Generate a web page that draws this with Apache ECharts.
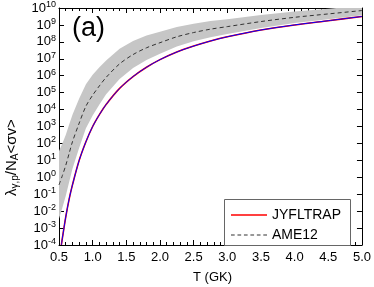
<!DOCTYPE html>
<html><head><meta charset="utf-8">
<script src="https://cdn.jsdelivr.net/npm/echarts@6/dist/echarts.min.js"></script>
<style>html,body{margin:0;padding:0;background:#fff}#c{width:374px;height:287px}</style>
</head><body><div id="c"></div>
<script>
// temperatures (GK)
var ameT = [0.5,0.55,0.6,0.65,0.7,0.8,0.9,1.0,1.1,1.2,1.4,1.6,1.8,2.0,2.25,2.5,2.75,3.0,3.5,4.0,4.5,5.0];
// log10 of rate: AME12 central (dashed), band upper and lower
var ameLog = [-0.45,0.1,0.7,1.4,2.1,3.2,4.2,4.85,5.4,5.9,6.7,7.25,7.65,7.95,8.3,8.55,8.75,8.9,9.2,9.45,9.65,9.85];
var bandUpper = [1.55,2.0,2.5,3.1,3.7,4.65,5.5,6.05,6.5,6.9,7.6,8.05,8.37,8.6,8.88,9.07,9.23,9.34,9.58,9.79,9.96,10.13];
var bandLower = [-2.45,-1.8,-1.1,-0.3,0.5,1.75,2.9,3.65,4.3,4.9,5.8,6.45,6.93,7.3,7.72,8.03,8.27,8.46,8.82,9.11,9.34,9.57];
// JYFLTRAP
var jyT = [0.535,0.55,0.6,0.65,0.7,0.8,0.9,1.0,1.1,1.2,1.4,1.6,1.8,2.0,2.25,2.5,2.75,3.0,3.5,4.0,4.5,5.0];
var jyLog = [-4.0,-3.6,-2.35,-1.3,-0.45,1.0,2.1,3.0,3.7,4.3,5.25,5.95,6.5,6.95,7.4,7.75,8.05,8.3,8.7,9.0,9.25,9.5];
var xTicks = [0.5,1.0,1.5,2.0,2.5,3.0,3.5,4.0,4.5,5.0];
var yExpMin = -4, yExpMax = 10;

var chart = echarts.init(document.getElementById('c'), null, {renderer:'canvas'});
var FONT = 'Liberation Sans, Arial, sans-serif';
function pairs(xs, ys){ return xs.map(function(x,i){return [x, ys[i]];}); }
function axisCommon(){ return {
  axisLine:{show:true,onZero:false,lineStyle:{color:'#000',width:1}},
  axisTick:{show:true,inside:true,length:5,lineStyle:{color:'#000'}},
  splitLine:{show:false}
};}
var solidIcon = 'path://M0,0H40V1.4H0Z';
var dashIcon = 'path://M0,0H4V1H0Z M7,0H11V1H7Z M14,0H18V1H14Z M21,0H25V1H21Z M28,0H32V1H28Z M35,0H39V1H35Z';
var option = {
  animation:false,
  backgroundColor:'#fff',
  grid:{left:59,right:9,top:3,bottom:42},
  xAxis:[
    Object.assign({type:'value',min:xTicks[0],max:xTicks[xTicks.length-1],interval:0.5,position:'bottom',
      minorTick:{show:true,splitNumber:5,length:3,lineStyle:{color:'#000'}},
      axisLabel:{color:'#000',fontFamily:FONT,fontSize:13,margin:6,formatter:function(v){return v.toFixed(1);}}
    },axisCommon()),
    Object.assign({type:'value',min:xTicks[0],max:xTicks[xTicks.length-1],interval:0.5,position:'top',
      minorTick:{show:true,splitNumber:5,length:3,lineStyle:{color:'#000'}},
      axisLabel:{show:false}},axisCommon())
  ],
  yAxis:[
    Object.assign({type:'value',min:yExpMin,max:yExpMax,interval:1,position:'left',
      axisLabel:{color:'#000',fontFamily:FONT,fontSize:13,margin:3,
        formatter:function(v){return '{b|10}{s|'+v+'}';},
        rich:{b:{fontSize:13,fontFamily:FONT,color:'#000'},s:{fontSize:9,fontFamily:FONT,color:'#000',padding:[0,0,7,0]}}}
    },axisCommon()),
    Object.assign({type:'value',min:yExpMin,max:yExpMax,interval:1,position:'right',
      axisLabel:{show:false}},axisCommon())
  ],
  legend:{
    show:true, left:226, top:203, orient:'vertical', itemWidth:36, itemHeight:14, itemGap:6, z:70,
    symbolKeepAspect:true,
    textStyle:{fontFamily:FONT,fontSize:14,color:'#000'},
    data:[{name:'JYFLTRAP',icon:solidIcon},{name:'AME12',icon:dashIcon}]
  },
  graphic:[
    {type:'rect',shape:{x:224.5,y:199.5,width:126,height:46},style:{fill:'#fff',stroke:'#666',lineWidth:1},z:50,silent:true},
    {type:'text',left:72,top:15,style:{text:'(a)',font:'27px '+FONT,fill:'#000'},z:60},
    {type:'text',x:4,y:196,rotation:Math.PI/2,
      style:{text:'{m|λ}{d|γ,p}{m|/N}{d|A}{m|<σv>}',
        rich:{m:{fontSize:15,fontFamily:FONT,color:'#000'},
              d:{fontSize:10,fontFamily:FONT,color:'#000',padding:[6,0,0,0]}}},z:60},
    {type:'text',left:193,top:271,style:{text:'T (GK)',font:'13px '+FONT,fill:'#000'},z:60}
  ],
  series:[
    {type:'custom',name:'band',silent:true,z:1,clip:true,
      data:pairs(ameT,ameLog),
      renderItem:function(params,api){
        if(params.dataIndex!==0) return;
        var pts=[],i;
        for(i=0;i<ameT.length;i++) pts.push(api.coord([ameT[i],bandUpper[i]]));
        for(i=ameT.length-1;i>=0;i--) pts.push(api.coord([ameT[i],bandLower[i]]));
        var cs=params.coordSys;
        return {type:'polygon',shape:{points:pts},style:{fill:'#c6c6c6'},
          clipPath:{type:'rect',shape:{x:cs.x,y:cs.y,width:cs.width,height:cs.height}}};
      }},
    {type:'line',name:'AME12',data:pairs(ameT,ameLog),showSymbol:false,symbol:'none',smooth:0.3,z:3,
      lineStyle:{color:'#333',width:1,type:[4,3]},itemStyle:{color:'#333'}},
    {type:'line',name:'JYFLTRAP',data:pairs(jyT,jyLog),showSymbol:false,symbol:'none',smooth:0.3,z:4,
      lineStyle:{color:'#ff0000',width:1.6},itemStyle:{color:'#ff0000'}},
    {type:'line',name:'blue',data:pairs(jyT,jyLog),showSymbol:false,symbol:'none',smooth:0.3,z:5,
      lineStyle:{color:'#0000ff',width:1},itemStyle:{color:'#0000ff'}}
  ]
};
chart.setOption(option);
</script></body></html>
